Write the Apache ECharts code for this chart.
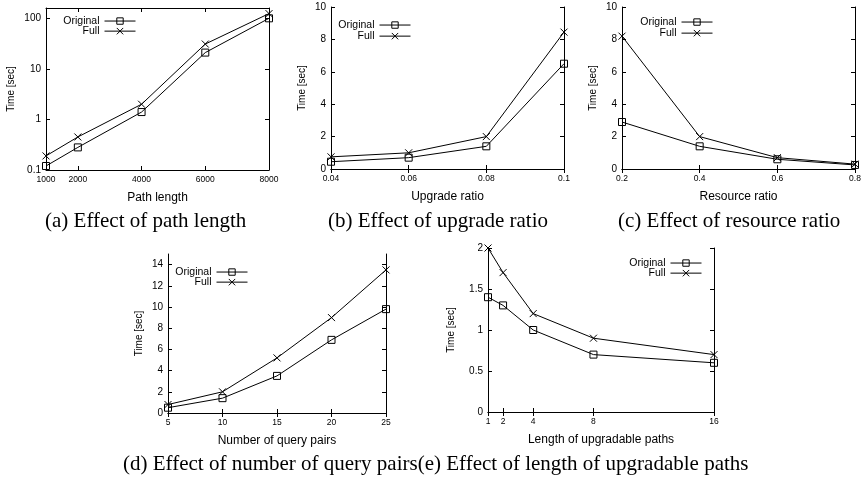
<html>
<head>
    <script src="https://cdn.jsdelivr.net/npm/echarts@6/dist/echarts.min.js"></script>
    <style>
        body { margin: 0; background: #fff; }
        #chart { width: 861px; height: 481px; }
    </style>
</head>
<body>
    <div id="chart"></div>
    <script>
        // (a) path length
        var pathLength = [1000, 2000, 4000, 6000, 8000];
        var pathOriginal = [0.12, 0.28, 1.4, 21, 100];
        var pathFull = [0.19, 0.45, 2.0, 31, 124];

        // (b) upgrade ratio
        var upgradeRatio = [0.04, 0.06, 0.08, 0.1];
        var upgradeOriginal = [0.45, 0.7, 1.4, 6.5];
        var upgradeFull = [0.75, 1.0, 2.0, 8.45];

        // (c) resource ratio
        var resourceRatio = [0.2, 0.4, 0.6, 0.8];
        var resourceOriginal = [2.9, 1.4, 0.6, 0.25];
        var resourceFull = [8.2, 2.0, 0.7, 0.3];

        // (d) number of query pairs
        var queryPairs = [5, 10, 15, 20, 25];
        var queryOriginal = [0.5, 1.4, 3.5, 6.9, 9.8];
        var queryFull = [0.8, 2.0, 5.2, 9.0, 13.5];

        // (e) length of upgradable paths
        var upLength = [1, 2, 4, 8, 16];
        var upOriginal = [1.4, 1.3, 1.0, 0.7, 0.6];
        var upFull = [2.0, 1.7, 1.2, 0.9, 0.7];

        // tick labels
        var ticksA_x = [1000, 2000, 4000, 6000, 8000];
        var ticksA_y = [0.1, 1, 10, 100];
        var ticksB_x = [0.04, 0.06, 0.08, 0.1];
        var ticksB_y = [0, 2, 4, 6, 8, 10];
        var ticksC_x = [0.2, 0.4, 0.6, 0.8];
        var ticksC_y = [0, 2, 4, 6, 8, 10];
        var ticksD_x = [5, 10, 15, 20, 25];
        var ticksD_y = [0, 2, 4, 6, 8, 10, 12, 14];
        var ticksE_x = [1, 2, 4, 8, 16];
        var ticksE_y = [0, 0.5, 1, 1.5, 2];

        var captions = [
            { text: '(a) Effect of path length', x: 45, y: 221 },
            { text: '(b) Effect of upgrade ratio', x: 328, y: 221 },
            { text: '(c) Effect of resource ratio', x: 618, y: 221 },
            { text: '(d) Effect of number of query pairs(e) Effect of length of upgradable paths', x: 123, y: 464 }
        ];

        var W = 861;
        var sans = 'Liberation Sans, Arial, sans-serif';

        var panels = [
            { box: [46, 8, 269, 170], xName: 'Path length', x: pathLength, o: pathOriginal, f: pathFull,
              xMin: 1000, xMax: 8000, yMin: 0.1, yMax: 160, log: true, xt: ticksA_x, yt: ticksA_y,
              xGap: 14, yGap: 26, leg: [136, 12, -8] },
            { box: [331, 7, 564, 169], xName: 'Upgrade ratio', x: upgradeRatio, o: upgradeOriginal, f: upgradeFull,
              xMin: 0.04, xMax: 0.1, yMin: 0, yMax: 10, xt: ticksB_x, yt: ticksB_y,
              xGap: 15, yGap: 19, leg: [411, 16, -7] },
            { box: [622, 7, 855, 169], xName: 'Resource ratio', x: resourceRatio, o: resourceOriginal, f: resourceFull,
              xMin: 0.2, xMax: 0.8, yMin: 0, yMax: 10, xt: ticksC_x, yt: ticksC_y,
              xGap: 15, yGap: 19, leg: [713, 13, -7] },
            { box: [168, 254, 386, 413], xName: 'Number of query pairs', x: queryPairs, o: queryOriginal, f: queryFull,
              xMin: 5, xMax: 25, yMin: 0, yMax: 15, xt: ticksD_x, yt: ticksD_y,
              xGap: 15, yGap: 17, leg: [248, 263, -8] },
            { box: [488, 248, 714, 412], xName: 'Length of upgradable paths', x: upLength, o: upOriginal, f: upFull,
              xMin: 1, xMax: 16, yMin: 0, yMax: 2, xt: ticksE_x, yt: ticksE_y,
              xGap: 15, yGap: 28, leg: [702, 254, -8] }
        ];

        var squareSym = 'path://M0,0L10,0L10,10L0,10Z';
        var crossSym = 'path://M0,0L10,10M10,0L0,10';

        var grid = [], xAxis = [], yAxis = [], series = [], legend = [];
        var line = { show: true, lineStyle: { color: '#000', width: 1 } };
        var plain = function (v) { return String(v); };

        panels.forEach(function (p, i) {
            grid.push({
                left: p.box[0], top: p.box[1],
                width: p.box[2] - p.box[0], height: p.box[3] - p.box[1],
                outerBoundsMode: 'none', containLabel: false
            });
            var xType = 'value';
            var yType = p.log ? 'log' : 'value';
            xAxis.push({
                gridIndex: i, type: xType, min: p.xMin, max: p.xMax, position: 'bottom',
                name: p.xName, nameLocation: 'middle', nameGap: p.xGap,
                nameTextStyle: { fontFamily: sans, fontSize: 12, color: '#000' },
                axisLine: line, splitLine: { show: false },
                axisTick: { inside: true, length: 4, customValues: p.xt, lineStyle: { color: '#000' } },
                axisLabel: { customValues: p.xt, formatter: plain, fontFamily: sans, fontSize: 8.5, color: '#000', margin: 2 }
            });
            xAxis.push({
                gridIndex: i, type: xType, min: p.xMin, max: p.xMax, position: 'top',
                axisLine: line, splitLine: { show: false },
                axisTick: { inside: true, length: 4, customValues: p.xt, lineStyle: { color: '#000' } },
                axisLabel: { show: false }
            });
            yAxis.push({
                gridIndex: i, type: yType, min: p.yMin, max: p.yMax, position: 'left',
                name: 'Time [sec]', nameLocation: 'middle', nameGap: p.yGap,
                nameTextStyle: { fontFamily: sans, fontSize: 10, color: '#000' },
                axisLine: line, splitLine: { show: false },
                axisTick: { inside: true, length: 4, customValues: p.yt, lineStyle: { color: '#000' } },
                axisLabel: { customValues: p.yt, formatter: plain, fontFamily: sans, fontSize: 10, color: '#000', margin: 5 }
            });
            yAxis.push({
                gridIndex: i, type: yType, min: p.yMin, max: p.yMax, position: 'right',
                axisLine: line, splitLine: { show: false },
                axisTick: { inside: true, length: 4, customValues: p.yt, lineStyle: { color: '#000' } },
                axisLabel: { show: false }
            });
            var mk = function (name, ys, sym) {
                return {
                    name: name, type: 'line', xAxisIndex: 2 * i, yAxisIndex: 2 * i,
                    data: p.x.map(function (v, k) { return [v, ys[k]]; }),
                    symbol: sym, symbolSize: 7, showSymbol: true, showAllSymbol: true,
                    lineStyle: { color: '#000', width: 1 },
                    itemStyle: { color: 'rgba(0,0,0,0)', borderColor: '#000', borderWidth: 1 },
                    emphasis: { disabled: true }
                };
            };
            series.push(mk('Original', p.o, squareSym));
            series.push(mk('Full', p.f, crossSym));
            legend.push({
                data: ['Original', 'Full'], orient: 'vertical', align: 'right',
                right: W - p.leg[0], top: p.leg[1], padding: 0,
                itemWidth: 31, itemHeight: 8, itemGap: p.leg[2],
                selectedMode: false,
                lineStyle: { width: 1, color: '#000' },
                itemStyle: { borderWidth: 1, borderColor: '#000' },
                textStyle: { fontFamily: sans, fontSize: 10.5, lineHeight: 10, color: '#000' }
            });
        });

        var graphic = captions.map(function (c) {
            return {
                type: 'text', x: c.x, y: c.y,
                style: {
                    text: c.text, fill: '#000', align: 'left', verticalAlign: 'middle',
                    font: '21px "Liberation Serif", "Times New Roman", serif'
                }
            };
        });

        var myChart = echarts.init(document.getElementById('chart'));
        myChart.setOption({
            animation: false,
            grid: grid,
            xAxis: xAxis,
            yAxis: yAxis,
            legend: legend,
            series: series,
            graphic: graphic
        });
    </script>
</body>
</html>
